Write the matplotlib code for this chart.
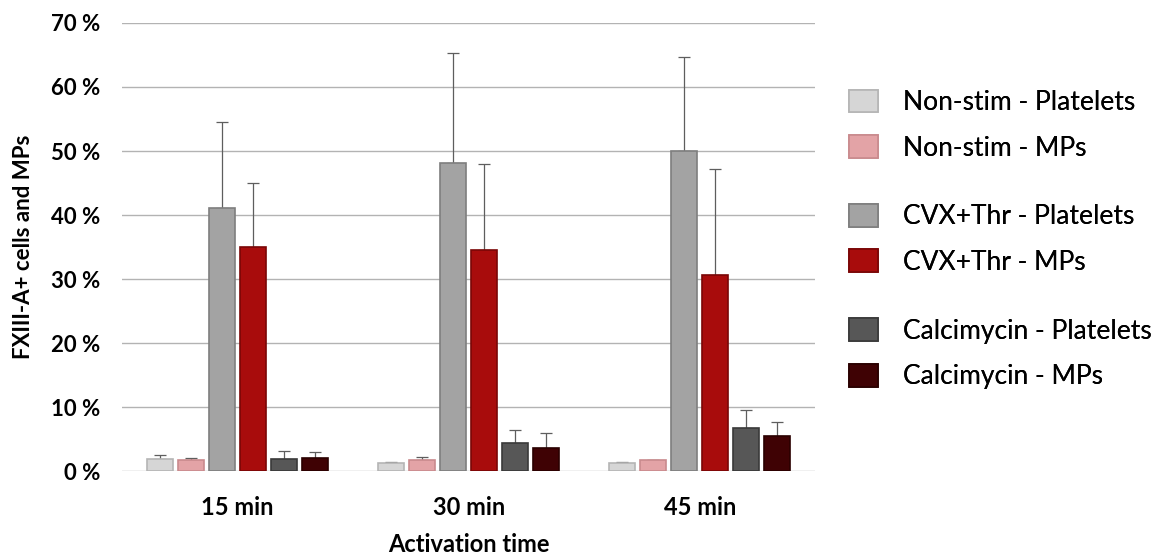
import numpy as np
import matplotlib.pyplot as plt
from matplotlib.patches import Patch

plt.rcParams['font.family'] = ['Lato', 'DejaVu Sans']

# data (fractions)
groups = ["15 min", "30 min", "45 min"]
series = ["Non-stim - Platelets", "Non-stim - MPs",
          "CVX+Thr - Platelets", "CVX+Thr - MPs",
          "Calcimycin - Platelets", "Calcimycin - MPs"]
values = [
    [0.019, 0.013, 0.013],
    [0.017, 0.017, 0.017],
    [0.411, 0.481, 0.500],
    [0.350, 0.345, 0.307],
    [0.019, 0.044, 0.067],
    [0.021, 0.036, 0.055],
]
errors = [
    [0.006, 0.001, 0.001],
    [0.003, 0.005, 0.001],
    [0.134, 0.172, 0.147],
    [0.100, 0.134, 0.165],
    [0.012, 0.021, 0.028],
    [0.009, 0.024, 0.022],
]
colors = ["#d6d6d6", "#e3a3a6", "#a3a3a3", "#a80c0c", "#575757", "#3f0204"]
edges = ["#b5b5b5", "#c98a8d", "#7e7e7e", "#7a0606", "#3a3a3a", "#2a0000"]

fig = plt.figure(figsize=(11.63, 5.59), dpi=100)
ax = fig.add_axes([0.105, 0.157, 0.596, 0.802])

x = np.arange(len(groups))
step = 0.134
width = 0.112
handles = []
for i, (vals, errs) in enumerate(zip(values, errors)):
    pos = x + (i - 2.5) * step
    ax.bar(pos, vals, width, color=colors[i], edgecolor=edges[i], linewidth=1.2,
           zorder=3, label=series[i])
    ax.errorbar(pos, vals, yerr=[np.zeros(len(errs)), errs], fmt="none",
                ecolor="#5e5e5e", elinewidth=0.9, capsize=4, capthick=0.9, zorder=2)
    handles.append(Patch(facecolor=colors[i], edgecolor=edges[i], linewidth=1.2))

ax.set_xlim(-0.5, 2.5)
ax.set_ylim(0, 0.7)
ax.set_yticks(np.arange(0, 0.71, 0.1))
ax.set_yticklabels([f"{int(round(v * 100))} %" for v in np.arange(0, 0.71, 0.1)],
                   fontsize=16, fontweight="bold")
ax.set_xticks(x)
ax.set_xticklabels(groups, fontsize=17, fontweight="bold")
ax.tick_params(axis="y", length=0, pad=16)
ax.tick_params(axis="x", length=0, pad=18)
ax.yaxis.grid(True, color="#b3b3b3", linewidth=1.0, zorder=0)
for s in ax.spines.values():
    s.set_visible(False)
ax.set_axisbelow(True)

ax.set_ylabel("FXIII-A+ cells and MPs", fontsize=16, fontweight="bold", labelpad=12)
ax.set_xlabel("Activation time", fontsize=17, fontweight="bold", labelpad=10)

# three legend blocks with the gaps between pairs
centers = [0.776, 0.572, 0.367]
for k in range(3):
    leg = fig.legend(handles[2 * k:2 * k + 2], series[2 * k:2 * k + 2],
                     loc="center left", bbox_to_anchor=(0.7185, centers[k]),
                     frameon=False, fontsize=19, handlelength=1.1, handleheight=0.95,
                     labelspacing=0.76, handletextpad=0.95, borderpad=0)
    fig.add_artist(leg)

fig.savefig("out.png", dpi=100)
